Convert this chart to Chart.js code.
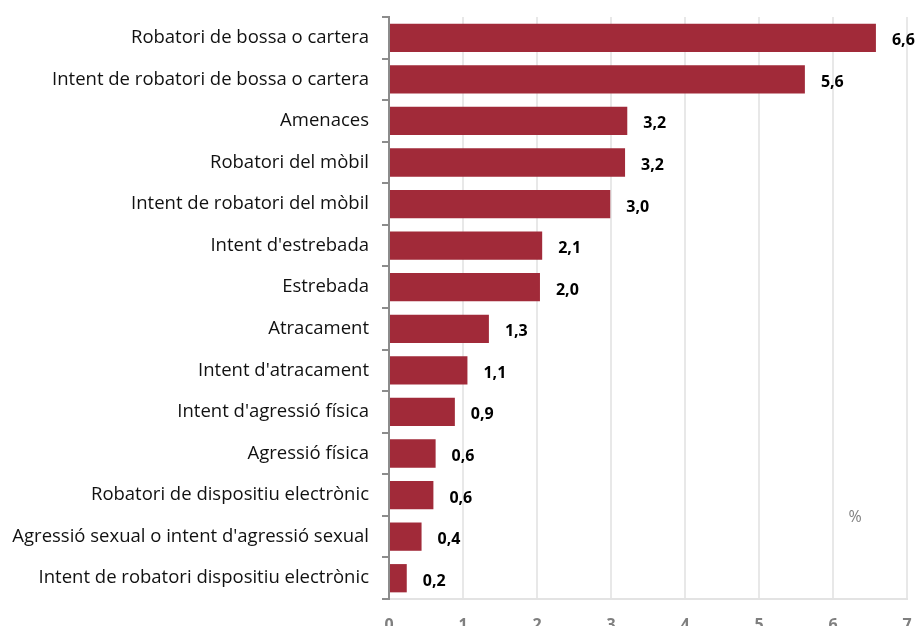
<!DOCTYPE html>
<html>
<head>
<meta charset="utf-8">
<script src="https://cdn.jsdelivr.net/npm/chart.js@4/dist/chart.umd.min.js"></script>
<style>
  html, body { margin: 0; padding: 0; background: #fff; overflow: hidden; }
  #wrap { width: 917px; height: 640px; }
</style>
</head>
<body>
<div id="wrap"><canvas id="myChart" width="917" height="640"></canvas></div>
<script>
const categories = [
    "Robatori de bossa o cartera",
    "Intent de robatori de bossa o cartera",
    "Amenaces",
    "Robatori del mòbil",
    "Intent de robatori del mòbil",
    "Intent d'estrebada",
    "Estrebada",
    "Atracament",
    "Intent d'atracament",
    "Intent d'agressió física",
    "Agressió física",
    "Robatori de dispositiu electrònic",
    "Agressió sexual o intent d'agressió sexual",
    "Intent de robatori dispositiu electrònic"
];
const values = [6.58, 5.62, 3.22, 3.19, 2.99, 2.07, 2.04, 1.35, 1.06, 0.89, 0.63, 0.6, 0.44, 0.24];
const valueLabels = ["6,6", "5,6", "3,2", "3,2", "3,0", "2,1", "2,0", "1,3", "1,1", "0,9", "0,6", "0,6", "0,4", "0,2"];
const xTicks = [0, 1, 2, 3, 4, 5, 6, 7];

// value labels next to bars + the "%" note
const barLabels = {
    id: 'barLabels',
    afterDatasetsDraw(chart) {
        const ctx = chart.ctx;
        const meta = chart.getDatasetMeta(0);
        ctx.save();
        ctx.font = "bold 16px 'Open Sans'";
        ctx.fillStyle = "#000";
        ctx.textBaseline = "middle";
        ctx.textAlign = "left";
        meta.data.forEach((bar, i) => {
            ctx.fillText(valueLabels[i], bar.x + 16, bar.y + 3);
        });
        ctx.font = "16px 'Open Sans'";
        ctx.fillStyle = "#7f7f7f";
        ctx.textAlign = "center";
        ctx.fillText("%", chart.scales.x.getPixelForValue(6.3), chart.scales.y.getPixelForValue(12) - 19);
        ctx.restore();
    }
};

const ctx = document.getElementById("myChart").getContext("2d");
new Chart(ctx, {
    type: "bar",
    data: {
        labels: categories,
        datasets: [{
            data: values,
            backgroundColor: "#A12A39",
            borderWidth: 0,
            categoryPercentage: 1,
            barPercentage: 0.68
        }]
    },
    options: {
        indexAxis: "y",
        responsive: false,
        animation: false,
        layout: { padding: { top: 17, right: 10, left: 0, bottom: 0 } },
        plugins: {
            legend: { display: false },
            tooltip: { enabled: false }
        },
        scales: {
            x: {
                min: 0,
                max: 7,
                afterBuildTicks: (scale) => { scale.ticks = xTicks.map(v => ({ value: v })); },
                afterFit: (scale) => {
                    scale.height = 41;
                    scale.paddingLeft = 0;
                    scale.paddingRight = 0;
                },
                grid: { color: "#e8e8e8", lineWidth: 2, drawTicks: false },
                border: { color: "#e3e3e3", width: 2 },
                ticks: {
                    color: "#7f7f7f",
                    font: { family: "'Open Sans'", size: 16, weight: "bold" },
                    padding: 17
                }
            },
            y: {
                afterFit: (scale) => {
                    scale.width = 389;
                    scale.paddingTop = 0;
                    scale.paddingBottom = 0;
                },
                grid: {
                    offset: true,
                    drawOnChartArea: false,
                    drawTicks: true,
                    tickLength: 7,
                    color: "#8c8c8c",
                    lineWidth: 2
                },
                border: { color: "#8c8c8c", width: 2 },
                ticks: {
                    color: "#111",
                    font: { family: "'Open Sans'", size: 18.5 },
                    padding: 13
                }
            }
        }
    },
    plugins: [barLabels]
});
</script>
</body>
</html>
